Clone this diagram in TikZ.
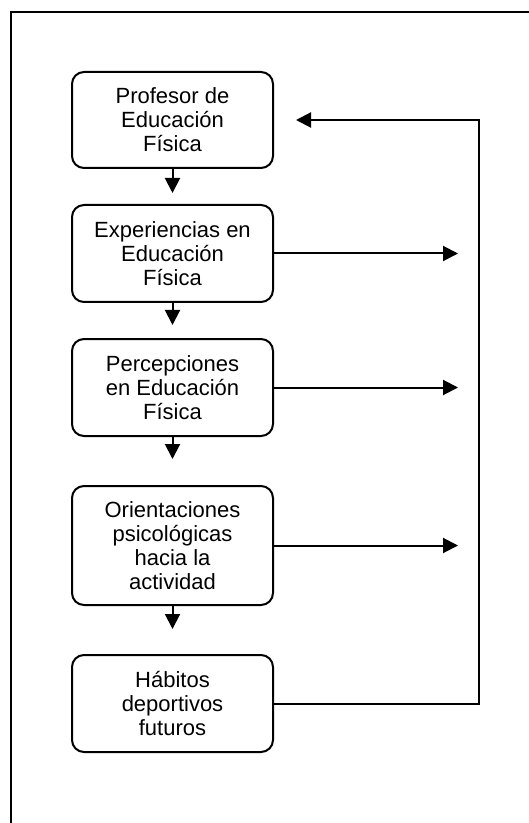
\documentclass[tikz,border=0pt]{standalone}
\usepackage{fontspec}
\setmainfont{Liberation Sans}
\usetikzlibrary{arrows.meta,positioning}

\begin{document}
\begin{tikzpicture}[
  box/.style={rounded corners=6pt, draw, line width=1pt, minimum width=100.5pt, minimum height=48.5pt, inner sep=0pt, align=center, font=\fontsize{11}{12}\selectfont, execute at begin node={\rule{0pt}{12pt}}},
  arrow/.style={-{Triangle[length=7.5pt,width=7.5pt]}, line width=1pt},
]
\useasboundingbox (0,0) rectangle (264.5pt,-411.5pt);
\draw[line width=1pt] (264.5pt,-6pt) -| (5.5pt,-411.5pt);
\node[box, minimum height=48pt] (prof) at (86.25pt,-60pt) {Profesor de\\Educación\\Física};
\node[box, below=17.5pt of prof] (exp) {Experiencias en\\Educación\\Física};
\node[box, below=17.5pt of exp] (perc) {Percepciones\\en Educación\\Física};
\node[box, minimum height=59.5pt, below=24pt of perc] (orie) {Orientaciones\\psicológicas\\hacia la\\actividad};
\node[box, below=24pt of orie] (hab) {Hábitos\\deportivos\\futuros};
\coordinate[right=92pt of exp.east] (expout);
\coordinate[right=92pt of perc.east] (percout);
\coordinate[right=92pt of orie.east] (orieout);
\coordinate[right=102.5pt of hab.east] (ret);
\draw[arrow, shorten >=5.5pt] (prof) -- (exp);
\draw[arrow, shorten >=6.5pt] (exp) -- (perc);
\draw[arrow, shorten >=13pt] (perc) -- (orie);
\draw[arrow, shorten >=12.5pt] (orie) -- (hab);
\draw[arrow] (exp.east) -- (expout);
\draw[arrow] (perc.east) -- (percout);
\draw[arrow] (orie.east) -- (orieout);
\draw[arrow, shorten >=11pt] (hab.east) -- (ret) |- (prof.east);
\end{tikzpicture}
\end{document}
